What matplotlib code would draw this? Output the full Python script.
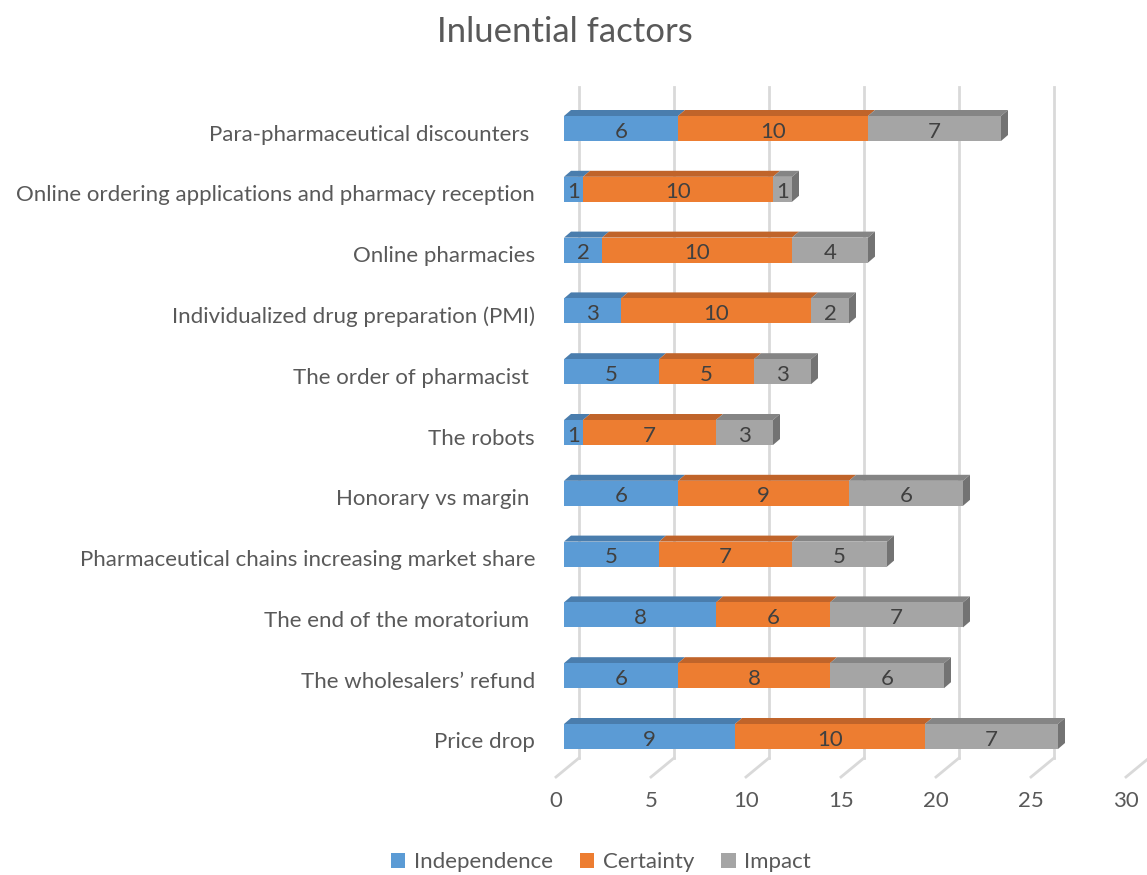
import numpy as np
import matplotlib
matplotlib.use("Agg")
import matplotlib.pyplot as plt
from matplotlib.patches import Polygon, Patch

# -----------------------------
# Data (top row first)
# -----------------------------
factors = [
    "Para-pharmaceutical discounters ",
    "Online ordering applications and pharmacy reception",
    "Online pharmacies",
    "Individualized drug preparation (PMI)",
    "The order of pharmacist ",
    "The robots",
    "Honorary vs margin ",
    "Pharmaceutical chains increasing market share",
    "The end of the moratorium ",
    "The wholesalers\u2019 refund",
    "Price drop",
]
independence = [6, 1, 2, 3, 5, 1, 6, 5, 8, 6, 9]
certainty = [10, 10, 10, 10, 5, 7, 9, 7, 6, 8, 10]
impact = [7, 1, 4, 2, 3, 3, 6, 5, 7, 6, 7]
series_names = ["Independence", "Certainty", "Impact"]
xticks = [0, 5, 10, 15, 20, 25, 30]

# -----------------------------
# Style
# -----------------------------
front_cols = ["#5B9BD5", "#ED7D31", "#A5A5A5"]
top_cols = ["#4A7DAD", "#C0642A", "#858585"]
side_col = "#737373"
text_col = "#595959"
grid_col = "#D9D9D9"
plt.rcParams['font.family'] = ['Lato', 'DejaVu Sans']

W, H = 1147, 875
fig = plt.figure(figsize=(W / 100, H / 100), dpi=100)

# axes placement in pixels
px_left, px_top, px_bottom = 564, 87, 777
ppu = 19.0           # pixels per x unit
row0, row_step = 128.5, 60.8
ax = fig.add_axes([px_left / W, 1 - px_bottom / H, (W - px_left) / W, (px_bottom - px_top) / H])
ax.set_xlim(0, (W - px_left) / ppu)
ax.set_ylim((px_bottom - row0) / row_step, (px_top - row0) / row_step)
ax.axis('off')

# 3D-ish depth
dx = 7 / ppu
dy = 6 / row_step
bar_h = 25 / row_step
grid_dx = 15 / ppu
floor_back = (758 - row0) / row_step
floor_front = (px_bottom - row0) / row_step
tick_dx = -8 / ppu

# back wall gridlines + floor diagonals
for t in xticks:
    ax.plot([t + grid_dx, t + grid_dx], [(px_top - row0) / row_step, floor_back],
            color=grid_col, lw=2, zorder=0, clip_on=False)
    ax.plot([t + grid_dx, t + tick_dx], [floor_back, floor_front],
            color=grid_col, lw=2, zorder=0, clip_on=False)
    ax.text(t + tick_dx, floor_front + 24 / row_step, str(t), ha='center', va='center',
            fontsize=16, color=text_col)

ypos = np.arange(len(factors))
data = [independence, certainty, impact]
left = np.zeros(len(factors))
for k, vals in enumerate(data):
    vals = np.array(vals, dtype=float)
    for i in range(len(factors)):
        x0, w, y = left[i], vals[i], ypos[i]
        top = y - bar_h / 2
        bot = y + bar_h / 2
        ax.add_patch(Polygon([(x0, top), (x0 + w, top), (x0 + w, bot), (x0, bot)],
                             closed=True, facecolor=front_cols[k], edgecolor='none', zorder=3))
        ax.add_patch(Polygon([(x0, top), (x0 + dx, top - dy), (x0 + w + dx, top - dy), (x0 + w, top)],
                             closed=True, facecolor=top_cols[k], edgecolor='none', zorder=2))
        if k == len(data) - 1:
            xr = x0 + w
            ax.add_patch(Polygon([(xr, top), (xr + dx, top - dy), (xr + dx, bot - dy), (xr, bot)],
                                 closed=True, facecolor=side_col, edgecolor='none', zorder=2))
        ax.text(x0 + w / 2, y + 3 / row_step, f"{int(vals[i])}", ha='center', va='center',
                fontsize=16, color="#404040", zorder=4)
    left += vals

# category labels
for i, name in enumerate(factors):
    ax.text(-29 / ppu, ypos[i] + 6 / row_step, name, ha='right', va='center',
            fontsize=16, color=text_col, clip_on=False)

fig.text(565 / W, 1 - 32 / H, "Inluential factors", ha='center', va='center',
         fontsize=25, color=text_col)

handles = [Patch(facecolor=c, edgecolor='none') for c in front_cols]
fig.legend(handles, series_names, loc='center', bbox_to_anchor=(601 / W, 1 - 862 / H),
           ncol=3, frameon=False, fontsize=16, handlelength=0.65, handleheight=0.65,
           handletextpad=0.4, columnspacing=1.2, labelcolor=text_col)

fig.savefig("out.png", dpi=100)
